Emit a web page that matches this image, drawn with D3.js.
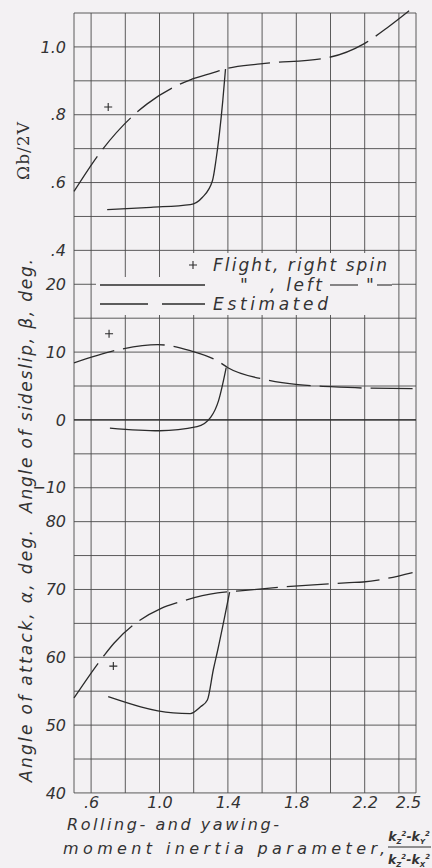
<!DOCTYPE html>
<html>
<head>
<meta charset="utf-8">
<script src="https://cdn.jsdelivr.net/npm/d3@7"></script>
<style>
  html, body { margin: 0; padding: 0; background: #f3f1f3; }
  svg { display: block; }
  text { font-family: "DejaVu Sans", sans-serif; font-style: italic; fill: #333; }
</style>
</head>
<body>
<svg id="svg" width="432" height="868"></svg>
<script>
// Values
var xTicks = [0.6, 1.0, 1.4, 1.8, 2.2, 2.5];
var xGrid = [0.5, 0.6, 0.8, 1.0, 1.2, 1.4, 1.6, 1.8, 2.0, 2.2, 2.4, 2.5];

var omegaTicks = [0.4, 0.6, 0.8, 1.0];
var betaTicks = [-10, 0, 10, 20];
var alphaTicks = [40, 50, 60, 70, 80];

// Omega b / 2V
var omegaEstimated = [[0.5, 0.574], [0.652, 0.688], [0.858, 0.803], [0.928, 0.832], [1.18, 0.903],
  [1.315, 0.924], [1.386, 0.935], [1.59, 0.95], [1.98, 0.968], [2.195, 1.009], [2.33, 1.056], [2.48, 1.115]];
var omegaLeft = [[0.694, 0.52], [0.95, 0.527], [1.18, 0.535], [1.25, 0.556], [1.31, 0.606],
  [1.33, 0.665], [1.37, 0.841], [1.386, 0.935]];
var omegaRight = [[0.70, 0.823]];

// sideslip, deg
var betaEstimated = [[0.5, 8.4], [0.77, 10.4], [0.99, 11.1], [1.18, 10.2], [1.345, 8.6], [1.40, 7.7],
  [1.63, 5.9], [1.81, 5.2], [2.0, 4.9], [2.19, 4.7], [2.5, 4.6]];
var betaLeft = [[0.71, -1.2], [1.0, -1.6], [1.22, -1.0], [1.30, 0.4], [1.345, 2.8], [1.39, 7.7]];
var betaRight = [[0.705, 12.7]];

// angle of attack, deg
var alphaEstimated = [[0.5, 54.0], [0.68, 60.4], [0.735, 62.1], [1.01, 67.2], [1.11, 68.1], [1.34, 69.5],
  [1.47, 69.8], [1.74, 70.4], [2.11, 71.0], [2.19, 71.1], [2.48, 72.5]];
var alphaLeft = [[0.70, 54.2], [1.08, 51.8], [1.18, 51.7], [1.24, 52.7], [1.28, 53.7], [1.315, 58.2],
  [1.34, 61.0], [1.41, 69.6]];
var alphaRight = [[0.73, 58.7]];

(function() {

var svg = d3.select('#svg');
var ink = '#2b2b2b';
var bg = '#f3f1f3';

// one continuous grid, 23 rows
var gridTop = 13, rowH = 33.91, nRows = 23;
function row(i) { return gridTop + i * rowH; }

var x = d3.scaleLinear().domain([0.5, 2.5]).range([74, 416]);
var yOmega = d3.scaleLinear().domain([1.1, 0.4]).range([row(0), row(7)]);
var yBeta = d3.scaleLinear().domain([20, -10]).range([row(8), row(14)]);
var yAlpha = d3.scaleLinear().domain([80, 40]).range([row(15), row(23)]);

// grid
var grid = svg.append('g').attr('stroke', '#4a4a4a').attr('stroke-width', 0.9);
grid.selectAll('line.h').data(d3.range(nRows + 1)).enter().append('line')
  .attr('x1', x(0.5)).attr('x2', x(2.5))
  .attr('y1', d => row(d)).attr('y2', d => row(d));
grid.selectAll('line.v').data(xGrid).enter().append('line')
  .attr('x1', d => x(d)).attr('x2', d => x(d))
  .attr('y1', row(0)).attr('y2', row(nRows));
// zero sideslip line a bit heavier
svg.append('line').attr('x1', x(0.5)).attr('x2', x(2.5))
  .attr('y1', yBeta(0)).attr('y2', yBeta(0))
  .attr('stroke', ink).attr('stroke-width', 1.1);

// legend area is left blank on the grid
svg.append('rect').attr('x', 96).attr('y', 277).attr('width', 90).attr('height', 38).attr('fill', bg);
svg.append('rect').attr('x', 180).attr('y', 253).attr('width', 212).attr('height', 62).attr('fill', bg);

// axes (labels only)
function styleAxis(g, size) {
  g.select('.domain').remove();
  g.selectAll('text').style('font-size', size + 'px').attr('fill', '#333')
    .style('font-family', '"DejaVu Sans", sans-serif').style('font-style', 'italic');
}
function fmtOmega(d) { return d === 1 ? '1.0' : String(d).replace('0.', '.'); }

svg.append('g').attr('transform', 'translate(' + x(0.5) + ',0)')
  .call(d3.axisLeft(yOmega).tickValues(omegaTicks).tickSize(0).tickPadding(8).tickFormat(fmtOmega))
  .call(g => styleAxis(g, 16));
svg.append('g').attr('transform', 'translate(' + x(0.5) + ',0)')
  .call(d3.axisLeft(yBeta).tickValues(betaTicks).tickSize(0).tickPadding(8).tickFormat(d3.format('d')))
  .call(g => styleAxis(g, 16));
svg.append('g').attr('transform', 'translate(' + x(0.5) + ',0)')
  .call(d3.axisLeft(yAlpha).tickValues(alphaTicks).tickSize(0).tickPadding(8).tickFormat(d3.format('d')))
  .call(g => styleAxis(g, 16));

var xAxis = svg.append('g').attr('transform', 'translate(0,' + row(nRows) + ')')
  .call(d3.axisBottom(x).tickValues(xTicks).tickSize(0).tickPadding(4)
    .tickFormat(d => d === 0.6 ? '.6' : d3.format('.1f')(d)))
  .call(g => styleAxis(g, 16));
xAxis.selectAll('text').filter(d => d === 2.5).attr('dx', '-0.5em');

// curves
var line = d3.line().curve(d3.curveMonotoneX);
function plot(data, yScale, dashed) {
  svg.append('path')
    .datum(data)
    .attr('d', line.x(d => x(d[0])).y(d => yScale(d[1])))
    .attr('fill', 'none')
    .attr('stroke', ink)
    .attr('stroke-width', 1.3)
    .attr('stroke-dasharray', dashed ? '42,9' : null);
}
function plus(data, yScale) {
  svg.selectAll(null).data(data).enter().append('path')
    .attr('d', d => {
      var cx = x(d[0]), cy = yScale(d[1]);
      return 'M' + (cx - 4) + ',' + cy + 'H' + (cx + 4) + 'M' + cx + ',' + (cy - 4) + 'V' + (cy + 4);
    })
    .attr('stroke', ink).attr('stroke-width', 1.1);
}

plot(omegaEstimated, yOmega, true);
plot(omegaLeft, yOmega, false);
plus(omegaRight, yOmega);

plot(betaEstimated, yBeta, true);
plot(betaLeft, yBeta, false);
plus(betaRight, yBeta);

plot(alphaEstimated, yAlpha, true);
plot(alphaLeft, yAlpha, false);
plus(alphaRight, yAlpha);

// legend
var lg = svg.append('g').style('font-size', '17px');
lg.append('path').attr('d', 'M189,265H197M193,261V269').attr('stroke', ink).attr('stroke-width', 1.1);
lg.append('text').attr('x', 213).attr('y', 271).attr('textLength', 174).attr('lengthAdjust', 'spacing')
  .text('Flight, right spin');
lg.append('line').attr('x1', 100).attr('x2', 205).attr('y1', 285).attr('y2', 285)
  .attr('stroke', ink).attr('stroke-width', 1.3);
lg.append('text').attr('x', 240).attr('y', 291).text('"');
lg.append('text').attr('x', 270).attr('y', 291).attr('textLength', 52).attr('lengthAdjust', 'spacing')
  .text(', left');
lg.append('line').attr('x1', 330).attr('x2', 358).attr('y1', 285).attr('y2', 285)
  .attr('stroke', ink).attr('stroke-width', 1.1);
lg.append('text').attr('x', 366).attr('y', 291).text('"');
lg.append('line').attr('x1', 377).attr('x2', 392).attr('y1', 285).attr('y2', 285)
  .attr('stroke', ink).attr('stroke-width', 1.1);
lg.append('line').attr('x1', 100).attr('x2', 205).attr('y1', 304).attr('y2', 304)
  .attr('stroke', ink).attr('stroke-width', 1.3).attr('stroke-dasharray', '48,14');
lg.append('text').attr('x', 213).attr('y', 310).attr('textLength', 115).attr('lengthAdjust', 'spacing')
  .text('Estimated');

// axis titles
svg.append('text')
  .attr('transform', 'translate(29,151) rotate(-90)')
  .attr('text-anchor', 'middle')
  .style('font-family', '"DejaVu Serif", serif').style('font-style', 'normal').style('font-size', '17px')
  .attr('textLength', 58).attr('lengthAdjust', 'spacing')
  .text('\u03A9b/2V');
svg.append('text')
  .attr('transform', 'translate(32,386) rotate(-90)')
  .attr('text-anchor', 'middle').style('font-size', '17px')
  .attr('textLength', 254).attr('lengthAdjust', 'spacing')
  .text('Angle of sideslip, \u03B2, deg.');
svg.append('text')
  .attr('transform', 'translate(32,656) rotate(-90)')
  .attr('text-anchor', 'middle').style('font-size', '17px')
  .attr('textLength', 252).attr('lengthAdjust', 'spacing')
  .text('Angle of attack, \u03B1, deg.');

svg.append('text').attr('x', 67).attr('y', 830).style('font-size', '16px')
  .attr('textLength', 212).attr('lengthAdjust', 'spacing').text('Rolling- and yawing-');
svg.append('text').attr('x', 63).attr('y', 854).style('font-size', '16px')
  .attr('textLength', 322).attr('lengthAdjust', 'spacing').text('moment inertia parameter,');

// fraction
var fr = svg.append('g').style('font-family', '"DejaVu Serif", serif').style('font-style', 'normal')
  .style('font-weight', 'bold').style('font-size', '12.5px');
var num = fr.append('text').attr('x', 409).attr('y', 841).attr('text-anchor', 'middle');
var den = fr.append('text').attr('x', 409).attr('y', 864).attr('text-anchor', 'middle');
[[num, 'Z', 'Y'], [den, 'Z', 'X']].forEach(function(t) {
  var el = t[0];
  el.append('tspan').text('k');
  el.append('tspan').attr('font-size', '7px').attr('dy', 3).text(t[1]);
  el.append('tspan').attr('font-size', '7px').attr('dy', -8).text('2');
  el.append('tspan').attr('dy', 5).text('-k');
  el.append('tspan').attr('font-size', '7px').attr('dy', 3).text(t[2]);
  el.append('tspan').attr('font-size', '7px').attr('dy', -8).text('2');
});
fr.append('line').attr('x1', 388).attr('x2', 431).attr('y1', 847).attr('y2', 847)
  .attr('stroke', ink).attr('stroke-width', 1);

})();
</script>
</body>
</html>
